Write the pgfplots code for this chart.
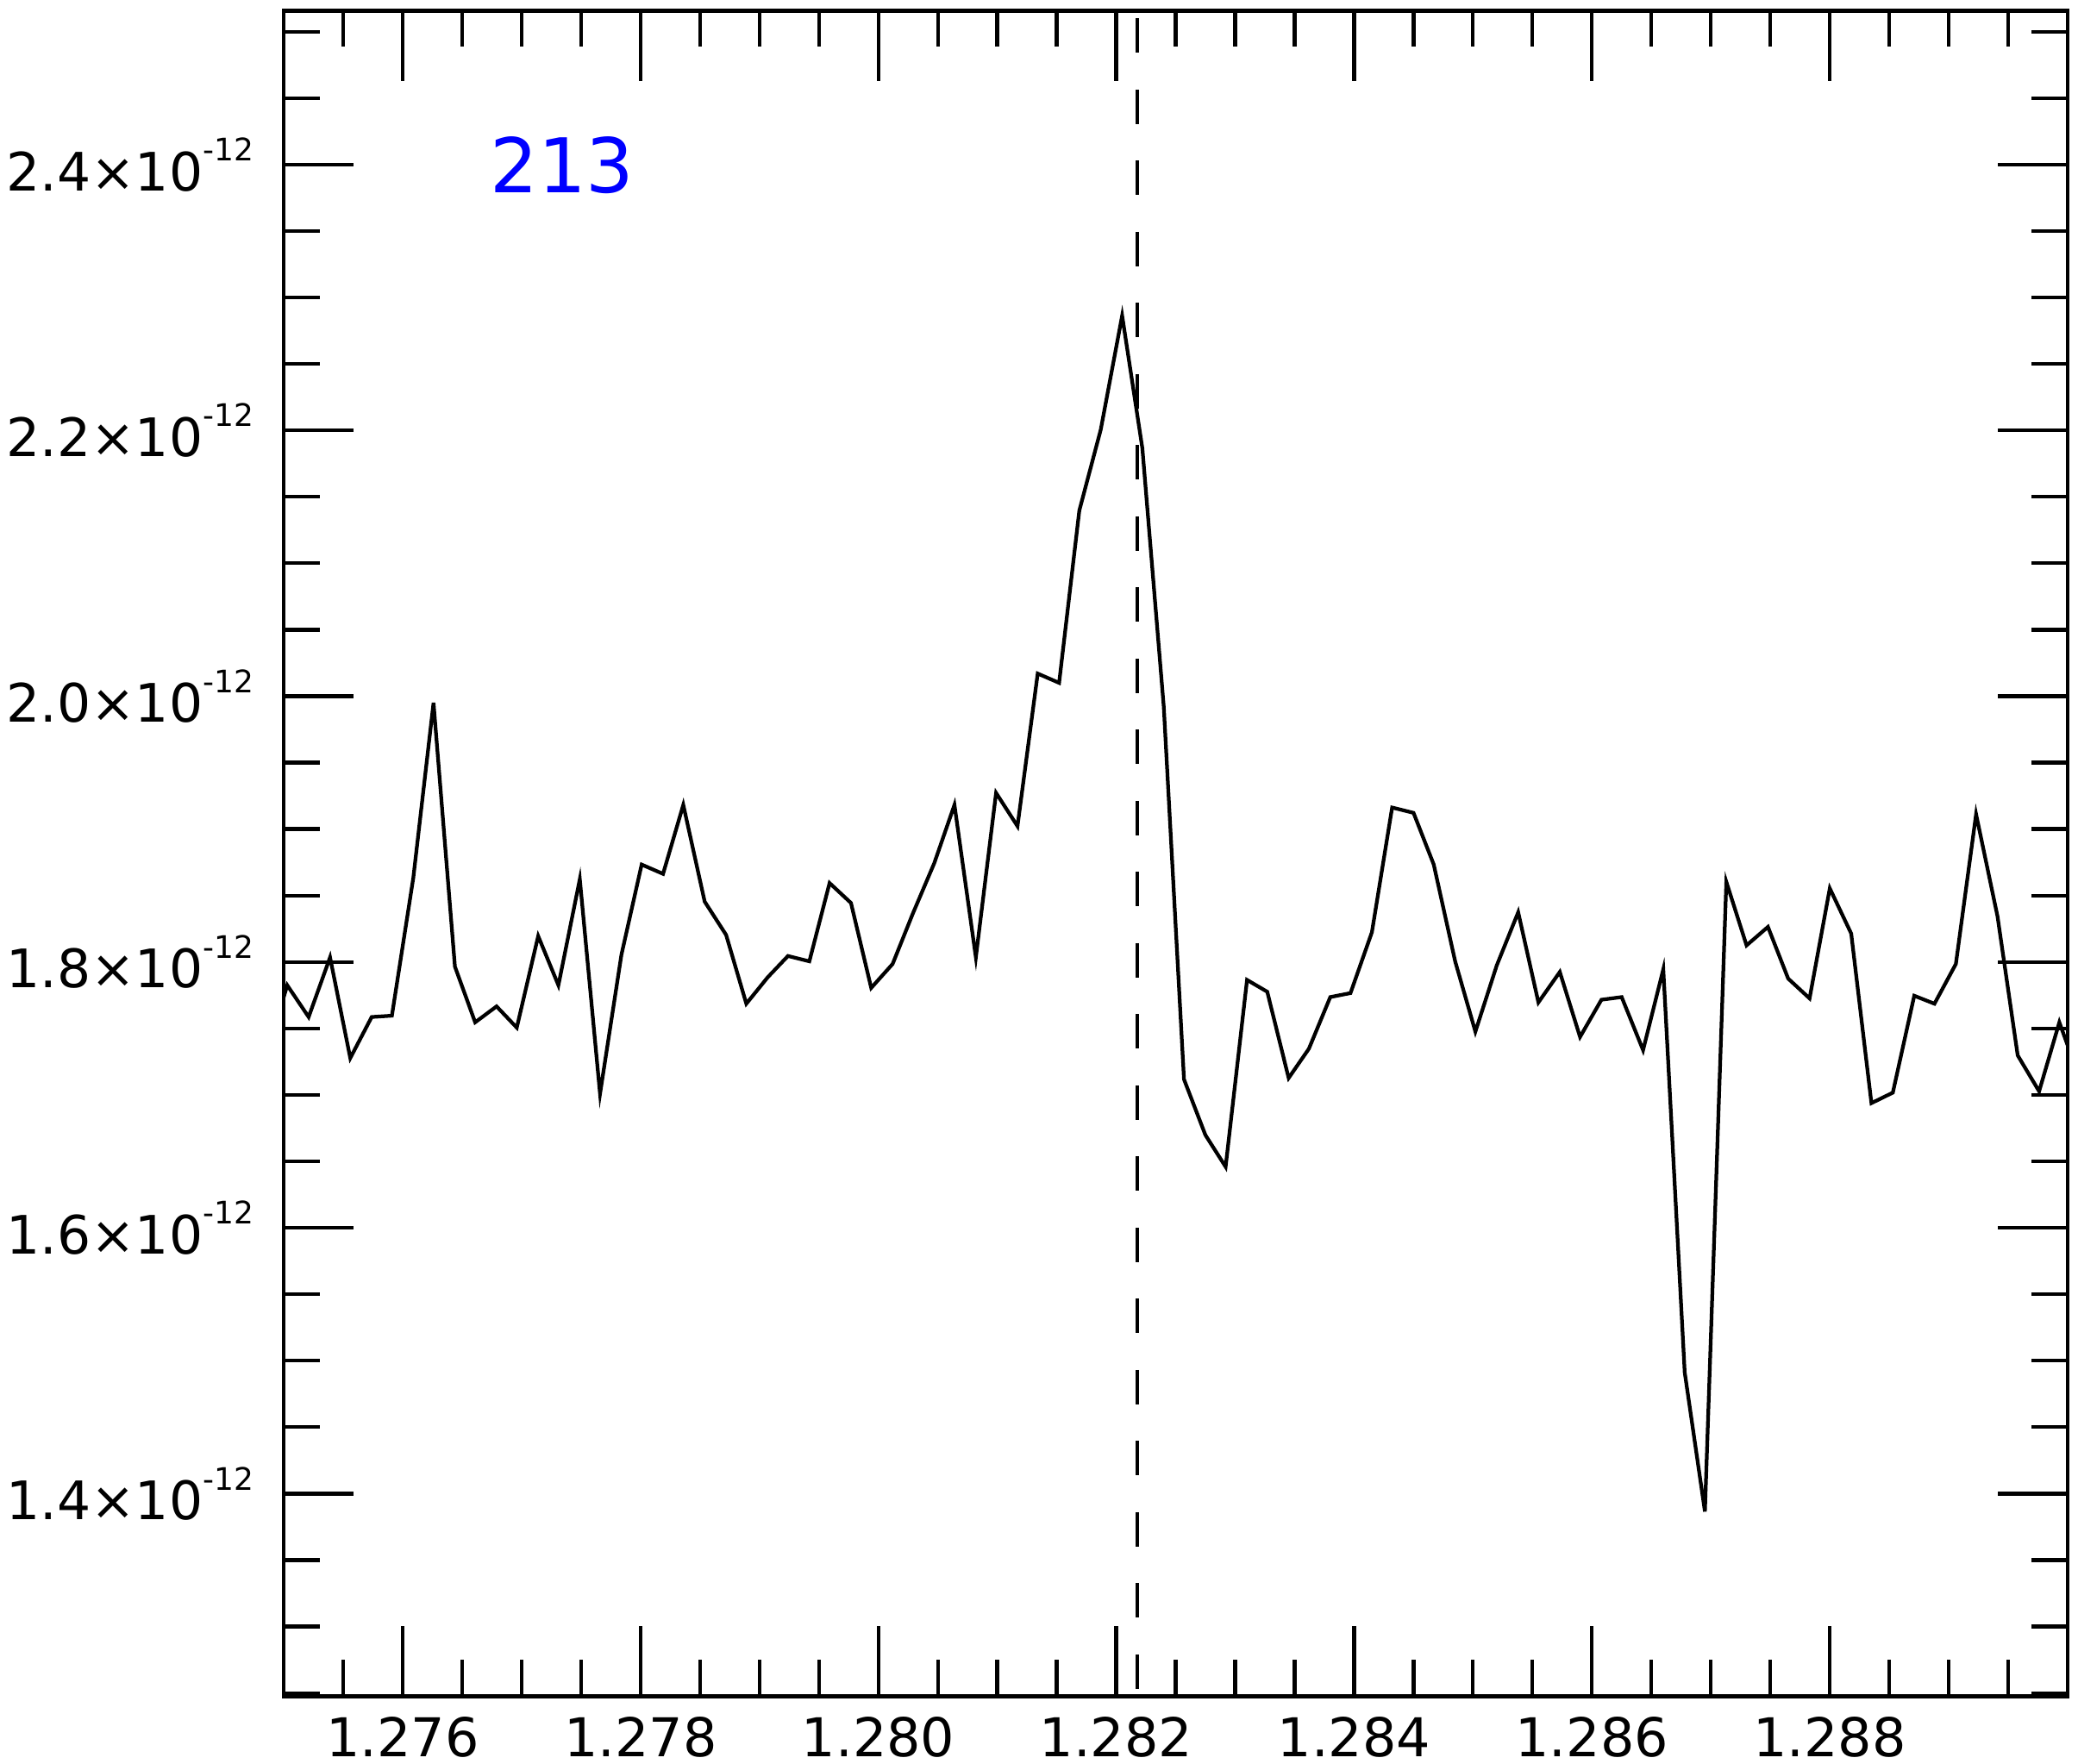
\documentclass[border=0pt]{standalone}
\usepackage{fontspec}
\setmainfont{DejaVu Sans}
\usepackage{pgfplots}
\pgfplotsset{compat=1.18}
\newcommand{\yl}[1]{#1×10\raisebox{6.9pt}{\fontsize{7.2}{8}\selectfont -12}}
\begin{document}
\begin{tikzpicture}
\useasboundingbox (-65.8pt,-15.7pt) rectangle (416.2pt,393.5pt);
\begin{axis}[
  at={(0,0)}, anchor=south west,
  scale only axis, width=413.8pt, height=391pt,
  xmin=1.275, xmax=1.290, ymin=1.2475, ymax=2.5157,
  axis line style={line width=0.85pt},
  every tick/.style={black, line width=0.85pt},
  tick align=inside,
  major tick length=16.3pt, minor tick length=8.4pt,
  xtick={1.276,1.278,1.280,1.282,1.284,1.286,1.288},
  xticklabels={1.276,1.278,1.280,1.282,1.284,1.286,1.288},
  minor xtick={1.2755,1.2765,1.2770,1.2775,1.2785,1.2790,1.2795,1.2805,1.2810,1.2815,1.2825,1.2830,1.2835,1.2845,1.2850,1.2855,1.2865,1.2870,1.2875,1.2885,1.2890,1.2895},
  ytick={1.4,1.6,1.8,2.0,2.2,2.4},
  yticklabels={\yl{1.4},\yl{1.6},\yl{1.8},\yl{2.0},\yl{2.2},\yl{2.4}},
  minor ytick={1.25,1.30,1.35,1.45,1.50,1.55,1.65,1.70,1.75,1.85,1.90,1.95,2.05,2.10,2.15,2.25,2.30,2.35,2.45,2.50},
  scaled x ticks=false, scaled y ticks=false,
  xticklabel style={font=\fontsize{12.4}{14}\selectfont, inner sep=0pt, anchor=north, yshift=-4.6pt},
  yticklabel style={font=\fontsize{12.3}{14}\selectfont, inner sep=0pt, anchor=east, xshift=-6.8pt},
]
\addplot[black, line width=0.85pt] coordinates {
(1.27486,1.7310) (1.27503,1.7825) (1.27521,1.7586) (1.27539,1.8035) (1.27556,1.7277)
(1.27574,1.7586) (1.27591,1.7596) (1.27609,1.8633) (1.27626,1.9950) (1.27644,1.7965)
(1.27661,1.7546) (1.27679,1.7666) (1.27696,1.7506) (1.27714,1.8195) (1.27731,1.7825)
(1.27749,1.8623) (1.27766,1.7008) (1.27784,1.8055) (1.27801,1.8733) (1.27819,1.8663)
(1.27836,1.9182) (1.27854,1.8454) (1.27872,1.8204) (1.27889,1.7686) (1.27907,1.7885)
(1.27924,1.8045) (1.27942,1.8005) (1.27959,1.8594) (1.27977,1.8444) (1.27994,1.7805)
(1.28012,1.7985) (1.28029,1.8364) (1.28047,1.8743) (1.28064,1.9182) (1.28082,1.8035)
(1.28099,1.9272) (1.28117,1.9022) (1.28134,2.0170) (1.28152,2.0100) (1.28169,2.1397)
(1.28187,2.2005) (1.28205,2.2863) (1.28222,2.1865) (1.28240,1.9920) (1.28257,1.7117)
(1.28275,1.6698) (1.28292,1.6459) (1.28310,1.7865) (1.28327,1.7776) (1.28345,1.7127)
(1.28362,1.7347) (1.28380,1.7736) (1.28397,1.7766) (1.28415,1.8224) (1.28432,1.9162)
(1.28450,1.9122) (1.28467,1.8733) (1.28485,1.8005) (1.28502,1.7476) (1.28520,1.7975)
(1.28538,1.8374) (1.28555,1.7696) (1.28573,1.7925) (1.28590,1.7436) (1.28608,1.7716)
(1.28625,1.7736) (1.28643,1.7337) (1.28660,1.7945) (1.28678,1.4913) (1.28695,1.3865)
(1.28713,1.8603) (1.28730,1.8125) (1.28748,1.8264) (1.28765,1.7875) (1.28783,1.7726)
(1.28800,1.8554) (1.28818,1.8214) (1.28835,1.6938) (1.28853,1.7017) (1.28871,1.7746)
(1.28888,1.7686) (1.28906,1.7985) (1.28923,1.9112) (1.28941,1.8344) (1.28958,1.7297)
(1.28976,1.7027) (1.28993,1.7546) (1.29011,1.7100)
};
\addplot[black, line width=0.85pt, dash pattern=on 8pt off 8.5pt, dash phase=14.7pt] coordinates {(1.28218,2.5157) (1.28218,1.2475)};
\node[anchor=base west, inner sep=0pt, text=blue, font=\fontsize{17.5}{20}\selectfont] at (axis cs:1.27673,2.379) {213};
\end{axis}
\end{tikzpicture}
\end{document}
